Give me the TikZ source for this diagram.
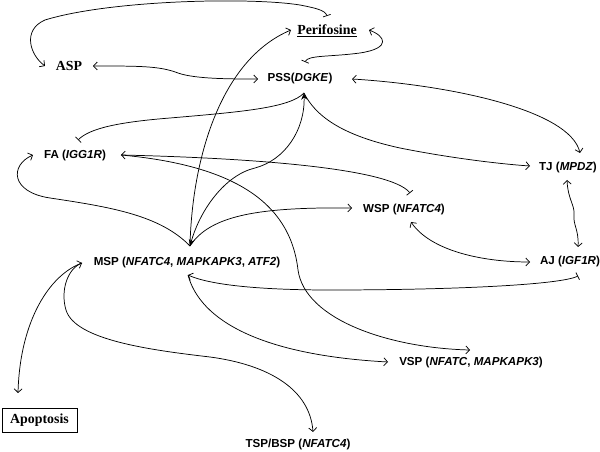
\documentclass[tikz,border=0pt]{standalone}
\usepackage{fontspec}
\setmainfont{Liberation Serif}
\setsansfont{Liberation Sans}
\usetikzlibrary{arrows.meta}
\begin{document}
\begin{tikzpicture}[x=0.75pt,y=-0.75pt,
  lab/.style={inner sep=0pt,font=\sffamily\bfseries\fontsize{8.7}{10}\selectfont},
  slab/.style={inner sep=0pt,font=\rmfamily\bfseries\fontsize{10.4}{12}\selectfont},
  conn/.style={line width=0.55pt},
  ar/.tip={Straight Barb[length=2.8pt,width=6pt,line width=0.55pt]},
  te/.tip={Bar[width=6pt,line width=0.55pt]},
  bo/.tip={Stealth[length=5pt,width=4.5pt]}]
\useasboundingbox (0,0) rectangle (600,452);
% nodes
\node[slab] (peri) at (327,31) {\underline{Perifosine}};
\node[slab] (asp) at (69,66) {ASP};
\node[lab] (pss) at (300,79) {PSS(\textit{DGKE})};
\node[lab] (fa) at (75,156) {FA (\textit{IGG1R})};
\node[lab] (tj) at (568,168) {TJ (\textit{MPDZ})};
\node[lab] (wsp) at (404,210) {WSP (\textit{NFATC4})};
\node[lab] (aj) at (570,262) {AJ (\textit{IGF1R})};
\node[lab] (msp) at (187,263) {MSP (\textit{NFATC4}, \textit{MAPKAPK3}, \textit{ATF2})};
\node[lab] (vsp) at (471,363) {VSP (\textit{NFATC}, \textit{MAPKAPK3})};
\node[lab] (tsp) at (298,445) {TSP/BSP (\textit{NFATC4})};
\node[slab,draw,line width=0.6pt,minimum width=75*0.75pt,minimum height=24*0.75pt] (apop) at (39.5,420) {Apoptosis};
% endpoints
\coordinate (aspL) at (45,66);
\coordinate (aspR) at (93,66);
\coordinate (periT) at (327,16);
\coordinate (periR) at (369,30);
\coordinate (periL) at (291,30);
\coordinate (pssL) at (258,79);
\coordinate (pssT) at (305,62);
\coordinate (pssR) at (352,79);
\coordinate (pssB) at (304,93);
\coordinate (faT) at (78,140);
\coordinate (faL) at (33,155);
\coordinate (faR) at (121,155);
\coordinate (tjT) at (580,153);
\coordinate (tjL) at (530,166);
\coordinate (tjB) at (567,180);
\coordinate (wspL) at (352,208);
\coordinate (wspT) at (410,193);
\coordinate (wspB) at (411,222);
\coordinate (ajL) at (530,262);
\coordinate (ajT) at (578,247);
\coordinate (ajB) at (578,276);
\coordinate (mspT) at (190,246);
\coordinate (mspB) at (188,275);
\coordinate (mspL) at (82,263);
\coordinate (vspT) at (470,350);
\coordinate (vspL) at (388,362);
\coordinate (tspT) at (313,432);
\coordinate (apopT) at (18,393);
% connectors
\draw[conn,{ar}-{te}] (aspL) .. controls (30,55) and (22,30) .. (45,20) .. controls (110,0) and (250,-3) .. (300,5) .. controls (315,8) and (325,10) .. (periT);
\draw[conn,{ar}-{ar}] (aspR) .. controls (140,66) and (160,66) .. (178,73) .. controls (195,79) and (230,79) .. (pssL);
\draw[conn,{ar}-{te}] (periR) .. controls (385,36) and (392,48) .. (360,53) .. controls (330,57) and (308,55) .. (pssT);
\draw[conn,{ar}-{ar}] (pssR) .. controls (450,85) and (570,110) .. (tjT);
\draw[conn,-{te}] (pssB) .. controls (290,108) and (240,112) .. (170,118) .. controls (120,122) and (90,128) .. (faT);
\draw[conn,-{ar}] (pssB) .. controls (315,115) and (340,135) .. (400,148) .. controls (450,158) and (500,164) .. (tjL);
\draw[conn,{bo}-{bo}] (mspT) .. controls (200,210) and (225,175) .. (255,168) .. controls (285,160) and (305,130) .. (pssB);
\draw[conn,-{ar}] (mspT) .. controls (192,160) and (220,60) .. (periL);
\draw[conn,-{ar}] (mspT) .. controls (210,215) and (260,207) .. (wspL);
\draw[conn,-{ar}] (mspT) .. controls (160,215) and (110,207) .. (50,198) .. controls (10,192) and (10,165) .. (faL);
\draw[conn,{ar}-{te}] (faR) .. controls (250,158) and (390,168) .. (wspT);
\draw[conn,-{ar}] (faR) .. controls (230,165) and (290,200) .. (298,270) .. controls (305,320) and (390,348) .. (vspT);
\draw[conn,{ar}-{ar}] (wspB) .. controls (430,250) and (480,262) .. (ajL);
\draw[conn,{ar}-{ar}] (tjB) .. controls (568,200) and (575,205) .. (574,215) .. controls (573,225) and (579,230) .. (ajT);
\draw[conn,{ar}-{te}] (mspB) .. controls (210,285) and (260,290) .. (330,290) .. controls (450,290) and (560,285) .. (ajB);
\draw[conn,-{ar}] (mspB) .. controls (200,320) and (260,355) .. (vspL);
\draw[conn,{ar}-{ar}] (mspL) .. controls (50,275) and (20,320) .. (apopT);
\draw[conn,-{ar}] (mspL) .. controls (68,268) and (60,290) .. (66,310) .. controls (75,340) and (150,350) .. (210,357) .. controls (270,365) and (310,390) .. (tspT);
\end{tikzpicture}
\end{document}
